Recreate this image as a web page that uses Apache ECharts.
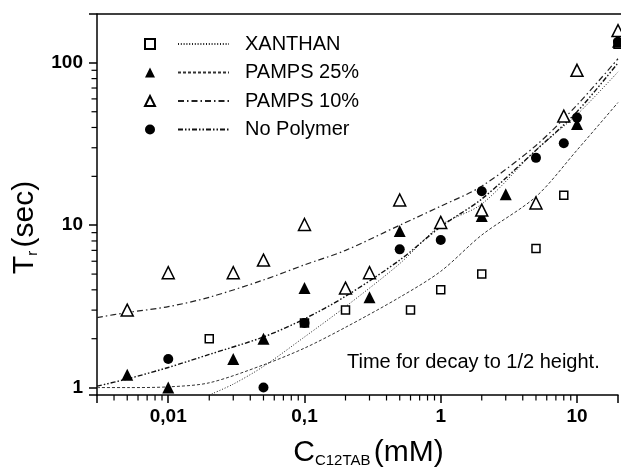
<!DOCTYPE html>
<html>
<head>
<meta charset="utf-8">
<script src="https://cdn.jsdelivr.net/npm/echarts@6/dist/echarts.min.js"></script>
<style>
  html, body { margin: 0; padding: 0; background: #fff; }
  #chart { width: 621px; height: 474px; }
</style>
</head>
<body>
<div id="chart"></div>
<script>
// measured points
const xanthanX = [0.02, 0.1, 0.2, 0.6, 1, 2, 5, 8, 20];
const xanthanY = [2.0, 2.5, 3.0, 3.0, 4.0, 5.0, 7.2, 15.3, 130];
const pamps25X = [0.005, 0.01, 0.03, 0.05, 0.1, 0.3, 0.5, 2, 3, 10, 20];
const pamps25Y = [1.2, 1.0, 1.5, 2.0, 4.1, 3.6, 9.2, 11.4, 15.5, 42, 135];
const pamps10X = [0.005, 0.01, 0.03, 0.05, 0.1, 0.2, 0.3, 0.5, 1, 2, 5, 8, 10, 20];
const pamps10Y = [3.0, 5.1, 5.1, 6.1, 10.1, 4.1, 5.1, 14.3, 10.4, 12.4, 13.7, 47, 90, 158];
const noPolyX = [0.01, 0.05, 0.1, 0.5, 1, 2, 5, 8, 10, 20];
const noPolyY = [1.5, 1.0, 2.5, 7.1, 8.1, 16.2, 26, 32, 46, 135];

// fitted curves
const fitX = [0.003, 0.005, 0.01, 0.02, 0.05, 0.1, 0.2, 0.5, 1, 2, 5, 10, 20];
const fitPamps10 = [2.7, 2.9, 3.15, 3.6, 4.6, 5.7, 7.0, 10.0, 13.1, 17.4, 31, 55, 106];
const fitNoPoly = [1.02, 1.13, 1.33, 1.6, 2.05, 2.65, 3.65, 6.1, 9.8, 14.5, 29, 50, 100];
const fitPamps25 = [1.0, 1.0, 1.01, 1.07, 1.38, 1.75, 2.35, 3.6, 5.2, 8.7, 15, 29, 57];
const fitXanthanX = [0.02, 0.03, 0.05, 0.1, 0.2, 0.5, 1, 2, 5, 10, 20];
const fitXanthan = [0.9, 1.05, 1.35, 2.05, 3.15, 5.8, 10.0, 13.5, 29, 48, 88];

// axes
const xMin = 0.003, xMax = 20;
const yMin = 0.9, yMax = 200;
const xTickValues = [0.01, 0.1, 1, 10];
const xTickLabels = ['0,01', '0,1', '1', '10'];
const yTickValues = [1, 10, 100];
const yTickLabels = ['1', '10', '100'];
const xMinorTicks = [0.004, 0.005, 0.006, 0.007, 0.008, 0.009,
  0.02, 0.03, 0.04, 0.05, 0.06, 0.07, 0.08, 0.09,
  0.2, 0.3, 0.4, 0.5, 0.6, 0.7, 0.8, 0.9,
  2, 3, 4, 5, 6, 7, 8, 9];
const yMinorTicks = [2, 3, 4, 5, 6, 7, 8, 9,
  20, 30, 40, 50, 60, 70, 80, 90];

const names = ['XANTHAN', 'PAMPS 25%', 'PAMPS 10%', 'No Polymer'];

function pairs(xs, ys) {
  return xs.map((x, i) => [x, ys[i]]);
}
function tickLabel(vals, labels) {
  return function (v) {
    for (let i = 0; i < vals.length; i++) {
      if (Math.abs(v - vals[i]) / vals[i] < 1e-6) return labels[i];
    }
    return '';
  };
}

const font = 'Liberation Sans, Arial, sans-serif';
const ink = '#000';

const chart = echarts.init(document.getElementById('chart'));

const openStyle = { color: '#fff', borderColor: ink, borderWidth: 1.5, opacity: 1 };
const fillStyle = { color: ink, opacity: 1 };
const lineBase = { type: 'line', symbol: 'none', smooth: 0.3, z: 3, silent: true,
  itemStyle: { color: 'transparent' } };
const scatterBase = { type: 'scatter', z: 5, silent: true };

const titleRich = {
  m: { fontSize: 30, fontFamily: font, color: ink },
  s: { fontSize: 15, fontFamily: font, color: ink, verticalAlign: 'bottom', padding: [14, 0, 0, 0] }
};

chart.setOption({
  animation: false,
  textStyle: { fontFamily: font },
  grid: { left: 97, top: 14, right: 1, bottom: 79 },
  legend: [
    {
      data: names.map(n => n + ' pts'),
      orient: 'vertical',
      left: 139, top: 29,
      itemWidth: 10, itemHeight: 10, itemGap: 8.5,
      formatter: () => ' ',
      selectedMode: false,
      textStyle: { fontSize: 20, fontFamily: font }
    },
    {
      data: names,
      orient: 'vertical',
      left: 172, top: 29,
      itemWidth: 51, itemHeight: 10, itemGap: 8.5,
      selectedMode: false,
      textStyle: { fontSize: 20, color: ink, fontFamily: font, padding: [0, 0, 0, 11] }
    }
  ],
  xAxis: {
    type: 'log', min: xMin, max: xMax, logBase: 10,
    name: '{m|C}{s|C12TAB} {m|(mM)}',
    nameLocation: 'middle', nameGap: 43,
    nameTextStyle: { padding: [0, 0, 0, 22], rich: titleRich },
    axisLine: { lineStyle: { color: ink, width: 1.5 } },
    axisTick: { inside: false, length: 8, lineStyle: { color: ink, width: 1.5 } },
    splitLine: { show: false },
    axisLabel: {
      formatter: tickLabel(xTickValues, xTickLabels),
      fontSize: 19, fontWeight: 'bold', color: ink, margin: 12
    }
  },
  yAxis: {
    type: 'log', min: yMin, max: yMax, logBase: 10,
    name: '{m|T}{s|r} {m|(sec)}',
    nameLocation: 'middle', nameGap: 57,
    nameTextStyle: { padding: [0, 46, 0, 0], rich: titleRich },
    axisLine: { lineStyle: { color: ink, width: 1.5 } },
    axisTick: { inside: false, length: 8, lineStyle: { color: ink, width: 1.5 } },
    splitLine: { show: false },
    axisLabel: {
      formatter: tickLabel(yTickValues, yTickLabels),
      fontSize: 19, fontWeight: 'bold', color: ink, margin: 14
    }
  },
  series: [
    Object.assign({}, lineBase, {
      name: names[0], data: pairs(fitXanthanX, fitXanthan),
      lineStyle: { color: '#222', width: 1, type: [1, 1.8] }
    }),
    Object.assign({}, lineBase, {
      name: names[1], data: pairs(fitX, fitPamps25),
      lineStyle: { color: '#333', width: 1, type: [3, 2] }
    }),
    Object.assign({}, lineBase, {
      name: names[2], data: pairs(fitX, fitPamps10),
      lineStyle: { color: '#222', width: 1.2, type: [6, 3, 1.5, 3] }
    }),
    Object.assign({}, lineBase, {
      name: names[3], data: pairs(fitX, fitNoPoly),
      lineStyle: { color: '#111', width: 1.4, type: [5, 2, 1.5, 2, 1.5, 2] }
    }),
    Object.assign({}, scatterBase, {
      name: names[0] + ' pts', data: pairs(xanthanX, xanthanY),
      symbol: 'rect', symbolSize: 8, itemStyle: openStyle
    }),
    Object.assign({}, scatterBase, {
      name: names[1] + ' pts', data: pairs(pamps25X, pamps25Y),
      symbol: 'triangle', symbolSize: 12, itemStyle: fillStyle
    }),
    Object.assign({}, scatterBase, {
      name: names[2] + ' pts', data: pairs(pamps10X, pamps10Y),
      symbol: 'triangle', symbolSize: 12, itemStyle: openStyle
    }),
    Object.assign({}, scatterBase, {
      name: names[3] + ' pts', data: pairs(noPolyX, noPolyY),
      symbol: 'circle', symbolSize: 10, itemStyle: fillStyle
    })
  ]
});

// minor ticks, top frame line and the note, placed through the grid's scales
const gfx = [];
const corner = chart.convertToPixel({ gridIndex: 0 }, [xMin, yMin]);
const far = chart.convertToPixel({ gridIndex: 0 }, [xMax, yMax]);
xMinorTicks.forEach(v => {
  const p = chart.convertToPixel({ gridIndex: 0 }, [v, yMin]);
  gfx.push({ type: 'rect', z: 100, shape: { x: p[0] - 0.6, y: p[1], width: 1.2, height: 5.5 },
    style: { fill: '#000' } });
});
yMinorTicks.forEach(v => {
  const p = chart.convertToPixel({ gridIndex: 0 }, [xMin, v]);
  gfx.push({ type: 'rect', z: 100, shape: { x: p[0] - 5.5, y: p[1] - 0.6, width: 5.5, height: 1.2 },
    style: { fill: '#000' } });
});
gfx.push({ type: 'line', z: 100, shape: { x1: corner[0], y1: far[1], x2: 621, y2: far[1] },
  style: { stroke: ink, lineWidth: 1.5 } });
gfx.push({ type: 'text', left: 347, top: 352,
  style: { text: 'Time for decay to 1/2 height.', font: '20px ' + font, fill: ink } });
chart.setOption({ graphic: gfx });
</script>
</body>
</html>
